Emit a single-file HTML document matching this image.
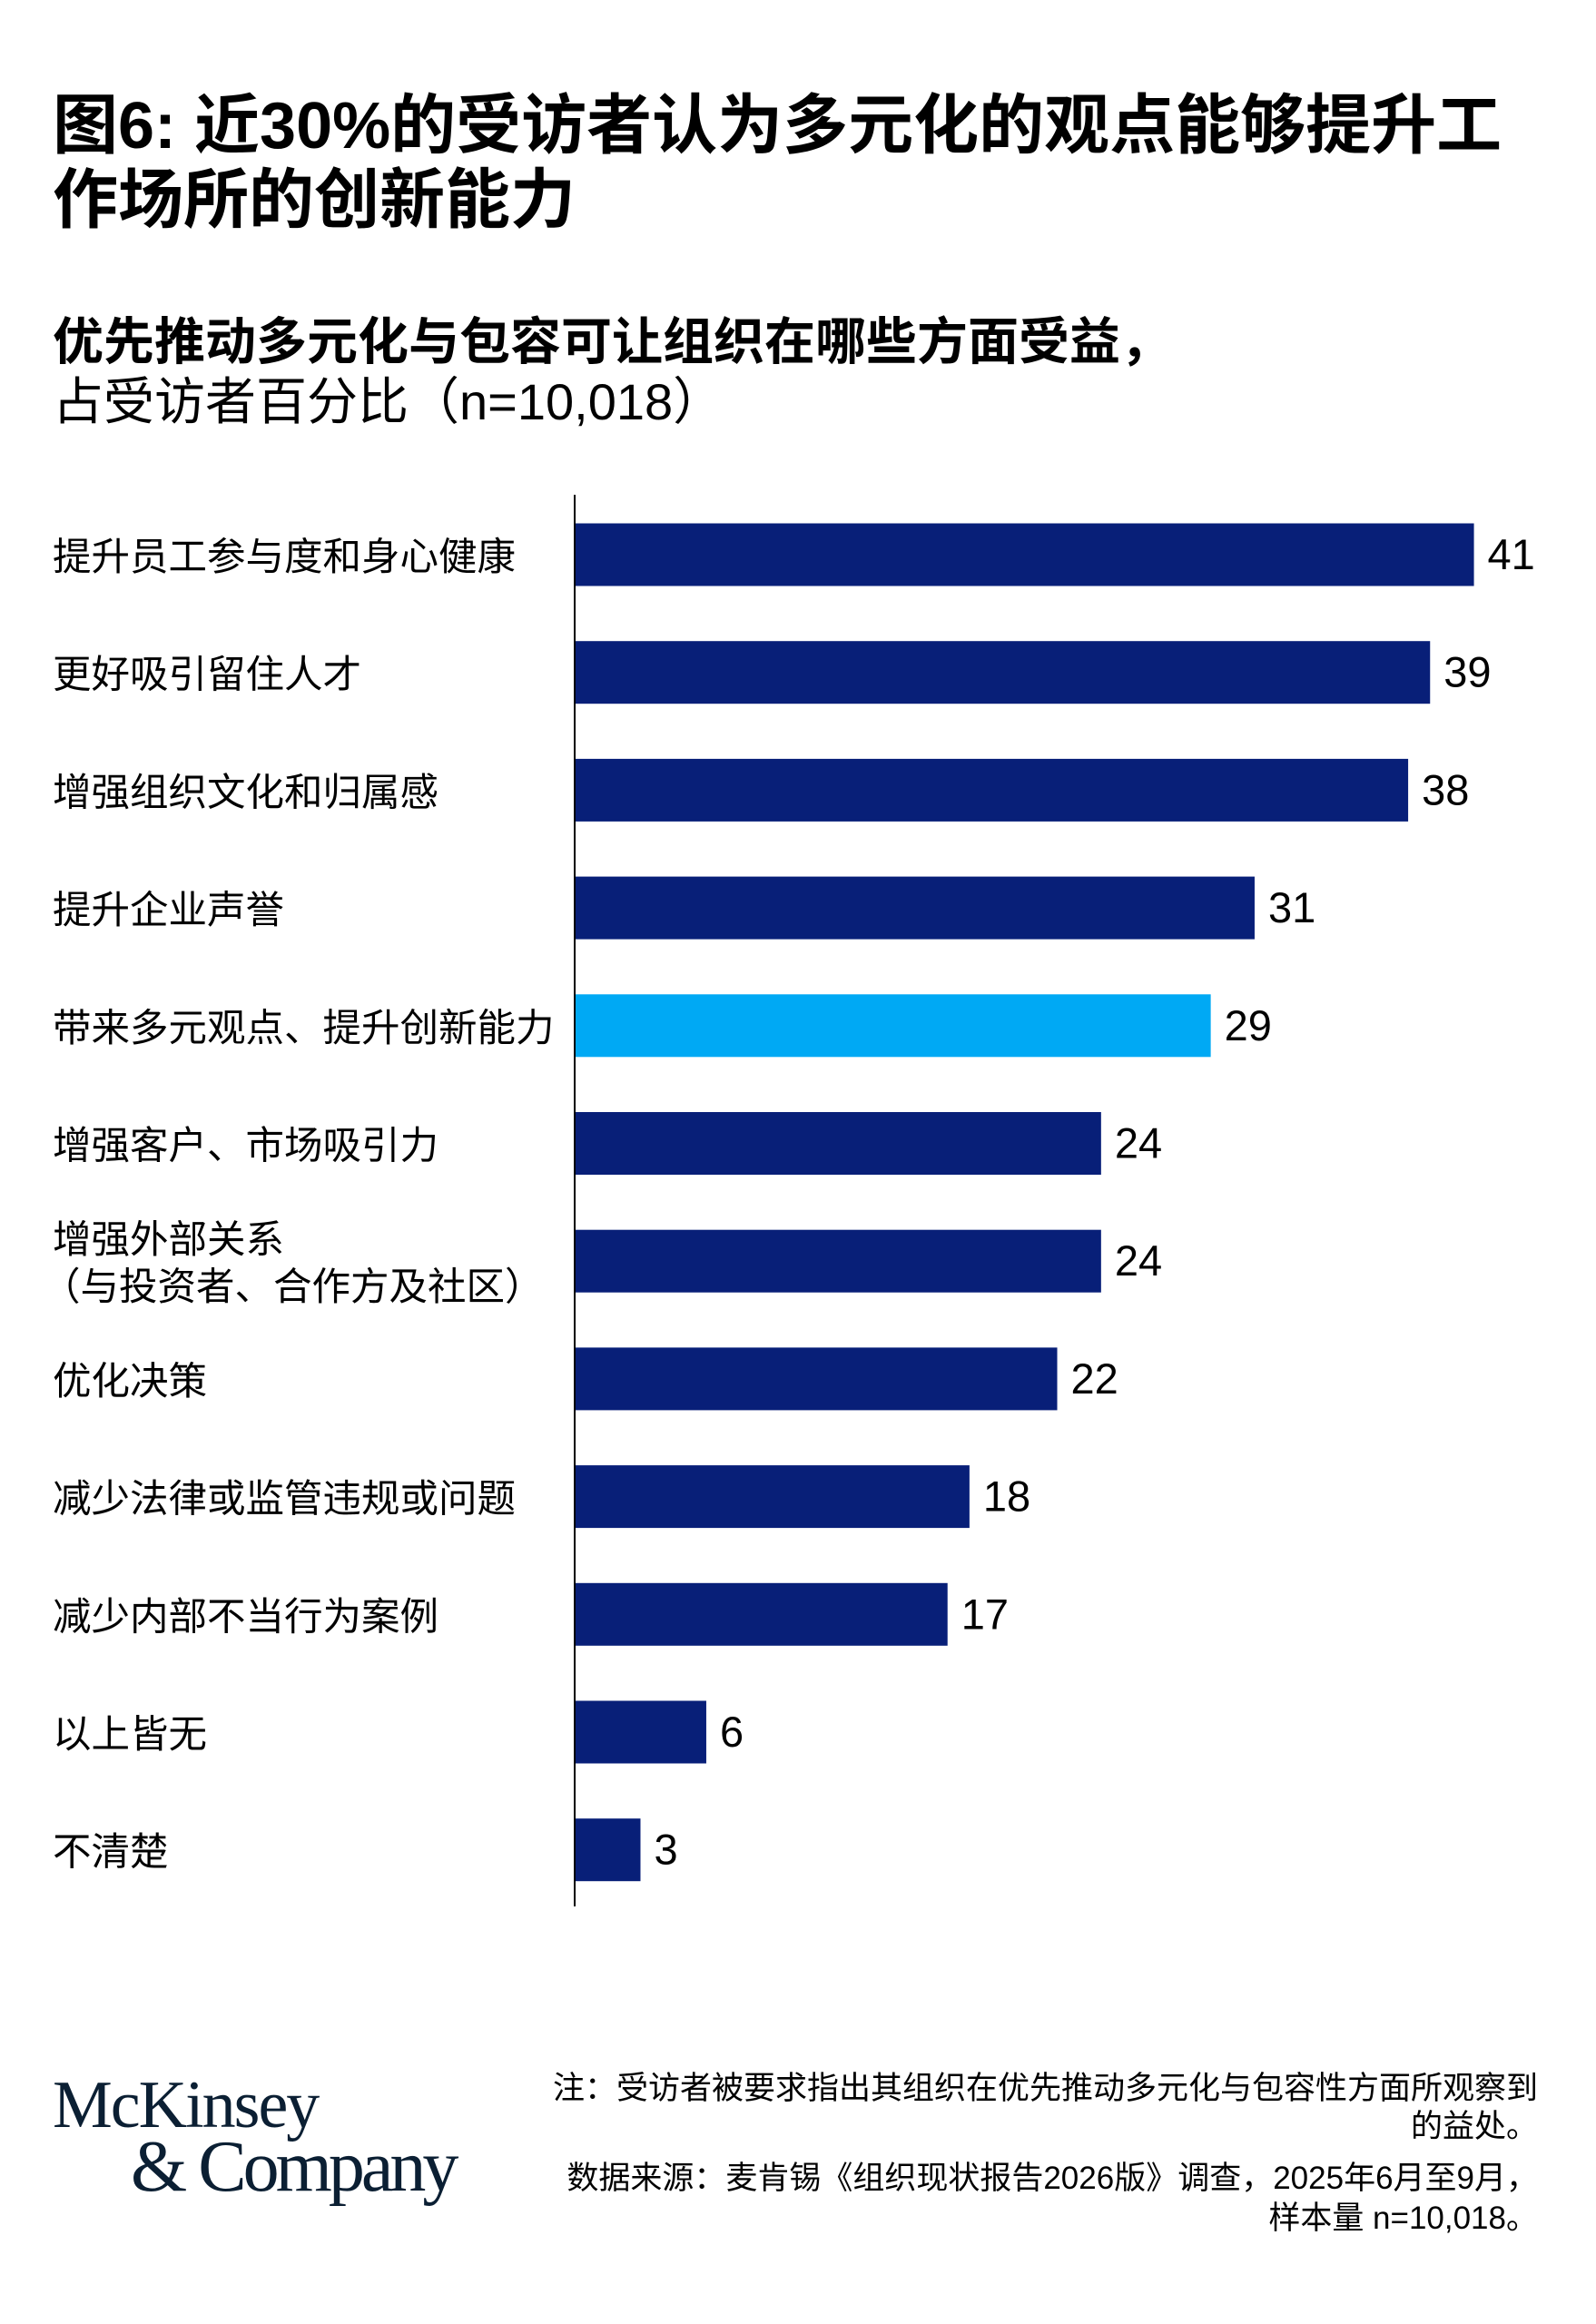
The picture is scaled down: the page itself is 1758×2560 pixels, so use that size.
<!DOCTYPE html>
<html><head><meta charset="utf-8">
<style>
html,body{margin:0;padding:0;background:#fff;}
body{width:1758px;height:2560px;position:relative;overflow:hidden;font-family:"Liberation Sans","Noto Sans CJK SC",sans-serif;color:#000;}
.t{position:absolute;white-space:nowrap;}
</style></head>
<body>
<div class="t" style="left:58px;top:98px;font-size:72px;font-weight:bold;line-height:82px;">图6: 近30%的受访者认为多元化的观点能够提升工<br>作场所的创新能力</div>
<div class="t" style="left:58px;top:344px;font-size:56px;font-weight:bold;line-height:66px;">优先推动多元化与包容可让组织在哪些方面受益，</div>
<div class="t" style="left:58px;top:410px;font-size:56px;line-height:66px;">占受访者百分比（n=10,018）</div>

<svg id="chart" style="position:absolute;left:0;top:0;" width="1758" height="2200"></svg>

<div class="t" style="left:58px;top:2285px;font-family:'Liberation Serif','DejaVu Serif',serif;font-size:74px;line-height:68px;color:#0b1f33;letter-spacing:-2px;">McKinsey<br><span style="margin-left:86px;font-size:80px;letter-spacing:-4px;">&amp; Company</span></div>
<div class="t" style="right:64px;top:2280px;font-size:35px;line-height:42px;text-align:right;">注：受访者被要求指出其组织在优先推动多元化与包容性方面所观察到<br>的益处。</div>
<div class="t" style="right:64px;top:2378px;font-size:35px;line-height:44px;text-align:right;">数据来源：麦肯锡《组织现状报告2026版》调查，2025年6月至9月，<br>样本量 n=10,018。</div>

<script>
const categories = ["提升员工参与度和身心健康","更好吸引留住人才","增强组织文化和归属感","提升企业声誉","带来多元观点、提升创新能力","增强客户、市场吸引力","增强外部关系\n（与投资者、合作方及社区）","优化决策","减少法律或监管违规或问题","减少内部不当行为案例","以上皆无","不清楚"];
const values = [41,39,38,31,29,24,24,22,18,17,6,3];
const highlight = [false,false,false,false,true,false,false,false,false,false,false,false];

const NS="http://www.w3.org/2000/svg";
const svg=document.getElementById('chart');
const x0=633, unit=24.16, y0=611, pitch=129.7, bh=69;
const xs=v=>x0+v*unit;
const ys=i=>y0+i*pitch;
function mk(t,a){const e=document.createElementNS(NS,t);for(const k in a)e.setAttribute(k,a[k]);svg.appendChild(e);return e;}
categories.forEach((c,i)=>{
  const cy=ys(i);
  const r=mk('rect',{x:x0,y:cy-bh/2,width:xs(values[i])-x0,height:bh,fill:highlight[i]?'#00A9F4':'#081F78'});
  
  
  const v=mk('text',{x:xs(values[i])+15,y:cy+16,'font-size':47,fill:'#000','font-family':'Liberation Sans, sans-serif'});
  v.textContent=values[i];
  
  
  const lines=c.split('\n');
  const l=mk('text',{x:58,y:cy+17-(lines.length-1)*26,'font-size':42.5,fill:'#000','font-family':'Liberation Sans, Noto Sans CJK SC, sans-serif'});
  lines.forEach((ln,j)=>{const ts=document.createElementNS(NS,'tspan');ts.setAttribute('x',j?46:58);if(j)ts.setAttribute('dy',52);ts.textContent=ln;l.appendChild(ts);});
  
  
});
const ax=mk('line',{x1:x0,x2:x0,y1:545,y2:2100,stroke:'#000','stroke-width':2});


</script>
</body></html>
